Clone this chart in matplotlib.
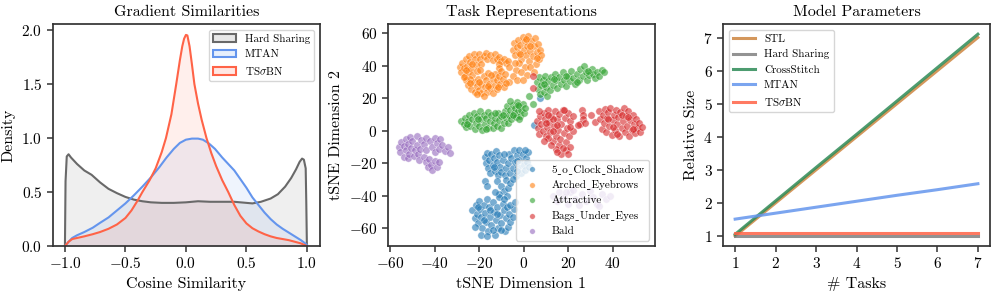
import numpy as np
import matplotlib
matplotlib.use("Agg")
import matplotlib.pyplot as plt
from matplotlib.patches import Patch

plt.rcParams['font.family'] = ['cmr10', 'DejaVu Serif', 'DejaVu Sans']
plt.rcParams['mathtext.fontset'] = 'cm'
plt.rcParams['axes.formatter.use_mathtext'] = True
plt.rcParams['axes.unicode_minus'] = True
plt.rcParams['axes.edgecolor'] = '0.2'
plt.rcParams['axes.linewidth'] = 1.25
plt.rcParams['xtick.color'] = '0.2'
plt.rcParams['ytick.color'] = '0.2'
plt.rcParams['xtick.labelcolor'] = 'black'
plt.rcParams['ytick.labelcolor'] = 'black'

# --- Gradient similarity densities ---
hs_x = [-1.0, -0.995, -0.985, -0.97, -0.95, -0.9, -0.84, -0.78, -0.71, -0.64, -0.57, -0.5,
        -0.43, -0.36, -0.29, -0.2, -0.1, 0.0, 0.1, 0.2, 0.3, 0.4, 0.5, 0.55, 0.62, 0.7,
        0.76, 0.82, 0.87, 0.91, 0.94, 0.96, 0.975, 0.99, 0.995, 1.0]
hs_y = [0.0, 0.6, 0.83, 0.85, 0.82, 0.76, 0.70, 0.66, 0.59, 0.53, 0.49, 0.455,
        0.43, 0.415, 0.405, 0.40, 0.40, 0.405, 0.415, 0.41, 0.41, 0.41, 0.40, 0.395, 0.41, 0.44,
        0.48, 0.55, 0.63, 0.71, 0.78, 0.81, 0.80, 0.72, 0.4, 0.0]

mtan_x = [-1.0, -0.97, -0.94, -0.9, -0.84, -0.77, -0.71, -0.64, -0.57, -0.5, -0.43, -0.36,
          -0.29, -0.22, -0.16, -0.1, -0.05, 0.0, 0.05, 0.1, 0.14, 0.19, 0.24, 0.3, 0.35,
          0.4, 0.45, 0.5, 0.55, 0.6, 0.65, 0.7, 0.75, 0.8, 0.85, 0.9, 0.95, 0.98, 1.0]
mtan_y = [0.0, 0.04, 0.075, 0.1, 0.13, 0.17, 0.215, 0.265, 0.33, 0.395, 0.47, 0.55,
          0.635, 0.73, 0.82, 0.90, 0.955, 0.985, 0.995, 0.995, 0.985, 0.95, 0.90, 0.82, 0.76,
          0.70, 0.62, 0.54, 0.45, 0.38, 0.31, 0.25, 0.2, 0.16, 0.125, 0.09, 0.055, 0.03, 0.01]

tsbn_x = [-1.0, -0.97, -0.94, -0.9, -0.84, -0.77, -0.71, -0.64, -0.57, -0.5, -0.45, -0.4,
          -0.36, -0.3, -0.25, -0.2, -0.165, -0.12, -0.08, -0.05, -0.03, -0.015, 0.0, 0.012,
          0.03, 0.05, 0.07, 0.1, 0.13, 0.17, 0.21, 0.25, 0.3, 0.35, 0.4, 0.45, 0.5, 0.55,
          0.6, 0.65, 0.7, 0.75, 0.8, 0.85, 0.9, 0.95, 1.0]
tsbn_y = [0.0, 0.04, 0.065, 0.075, 0.09, 0.11, 0.13, 0.16, 0.2, 0.26, 0.33, 0.42,
          0.50, 0.61, 0.72, 0.87, 1.0, 1.22, 1.5, 1.72, 1.85, 1.92, 1.955, 1.95,
          1.85, 1.68, 1.5, 1.32, 1.17, 1.0, 0.86, 0.74, 0.61, 0.5, 0.38, 0.28, 0.21, 0.165,
          0.135, 0.11, 0.09, 0.075, 0.065, 0.055, 0.04, 0.025, 0.0]

# --- tSNE task representations (approximate point positions) ---
shadow_pts = [(-17.5, -16), (-17, -20), (-16.5, -13.5), (-16, -23), (-15.5, -18), (-15, -26),
              (-14.5, -14), (-14, -21), (-13.5, -17), (-13, -24.5), (-12.5, -12.5), (-12, -19),
              (-11.5, -27), (-11, -15), (-10.5, -22), (-10, -25.5), (-9.5, -18), (-8.5, -27.5),
              (-8, -23), (-7, -20), (-6.5, -14), (-6, -26), (-5.5, -17), (-5, -23), (-4.5, -12),
              (-4, -19.5), (-3.5, -28), (-3, -15), (-2.5, -22.5), (-2, -12), (-1.5, -18), (-1, -26),
              (-0.5, -14), (0, -21), (0.5, -24), (1, -16.5), (1.5, -19.5), (2, -13), (2.5, -22),
              (-3, -25), (-17.5, -31), (-16.5, -34), (-12, -31), (-10, -34), (-8, -30), (-9, -37),
              (-7, -35), (-6, -32), (-5, -29.5), (-11, -39), (-7.5, -40), (-23, -49), (-22, -54),
              (-21.5, -45.5), (-21, -51), (-20.5, -57), (-20, -43), (-19.5, -48), (-19, -53),
              (-18.5, -60), (-18, -46), (-17.5, -50.5), (-17, -56), (-16.5, -42), (-16, -62),
              (-15.5, -47), (-15, -53), (-14.5, -58), (-14, -44), (-13.5, -50), (-13, -64),
              (-12.5, -55), (-12, -47), (-11.5, -60), (-11, -41), (-10.5, -52), (-10, -57),
              (-9.5, -45), (-9, -49), (-8.5, -62), (-8, -54), (-7.5, -47), (-7, -59), (-6.5, -51),
              (-6, -56), (-5, -53), (-4.5, -48), (-13, -38), (7.5, 20.5), (4.5, 3.5),
              (-22, -59), (-19, -64), (-16.5, -65), (-20.5, -47), (-18, -55), (-14, -61),
              (-10, -61), (-12, -51), (-15, -49), (-6, -46), (-4, -44), (-9, -42), (-3, -18.5),
              (0.5, -12), (-13.5, -22), (-9, -14)]
arched_pts = [(-28.5, 39), (-28, 36), (-27.5, 42), (-27, 38.5), (-26.5, 34), (-26, 44), (-25.5, 40),
              (-25, 36.5), (-24.5, 46), (-24, 42.5), (-23.5, 38), (-23, 34.5), (-22.5, 47), (-22, 44),
              (-21.5, 40.5), (-21, 37), (-20, 47.5), (-19.5, 44), (-19, 41), (-18, 46), (-17, 48),
              (-16.5, 44.5), (-15, 46.5), (-14, 43.5), (-13, 47), (-12, 44), (-11, 45.5), (-10, 43),
              (-9, 44.5), (-8, 41.5), (-7, 43), (-6.5, 39.5), (-11, 41), (-19.5, 37.5), (-11, 38.5),
              (-26, 31), (-25, 28.5), (-24, 32), (-23.5, 26), (-22.5, 30), (-22, 24), (-21, 27.5),
              (-20.5, 32), (-20, 25), (-19, 29), (-19, 23.5), (-18, 34), (-17.5, 27), (-17, 31),
              (-16.5, 24), (-16, 35.5), (-15.5, 29), (-15, 26.5), (-14, 32), (-14, 23), (-13, 35),
              (-13, 28), (-12, 31.5), (-12, 25.5), (-11, 34), (-10.5, 29), (-10, 37), (-9.5, 32),
              (-9, 27), (-8.5, 35), (-5, 50), (-4.5, 54), (-4, 46.5), (-3, 51.5), (-2.5, 56),
              (-2, 48), (-1.5, 53), (-1, 44.5), (-0.5, 58), (0, 50), (0.5, 55), (1, 46.5),
              (1.5, 52), (2, 58.5), (2.5, 43), (3, 49), (3.5, 55), (4, 46), (4.5, 52), (5, 57),
              (5.5, 41), (6, 48.5), (6.5, 53.5), (7, 44), (7.5, 50), (8, 46.5), (-2, 41.5),
              (0.5, 39.5), (3, 39), (-3.5, 37.5), (-1, 36), (1.5, 34.5), (-5, 33.5), (-3, 31.5),
              (-0.5, 31.5), (-6.5, 30), (4.5, 36), (-4, 42), (-27, 33), (-24, 29.5), (-21, 22.5),
              (-18, 21.5), (-16, 27.5), (-20, 30), (-23, 41), (-26, 37.5), (-14.5, 34.5),
              (-11.5, 27), (-8, 29.5), (3, 52.5), (6, 45), (-1.5, 47), (1, 56.5)]
attractive_pts = [(-28, 6), (-27, 4), (-26.5, 8), (-26, 2.5), (-25, 6), (-24.5, 9.5), (-24, 3),
                  (-23, 7), (-22.5, 11), (-22, 1), (-21.5, 5), (-21, 9), (-20, 3), (-19.5, 12),
                  (-19, 7), (-18.5, 0.5), (-18, 10), (-17.5, 4), (-17, 8), (-16, 2), (-16, 11.5),
                  (-15, 6), (-14.5, 9.5), (-14, 1.5), (-13.5, 4.5), (-13, 8), (-12, 3), (-11.5, 11),
                  (-11, 6.5), (-10, 2), (-10, 9), (-9, 5), (-8.5, 12), (-8, 8), (-7.5, 15), (-7, 4.5),
                  (-6.5, 10), (-6, 13), (-5.5, 7), (-5, 16), (-4.5, 11), (-4, 14), (-3.5, 8.5),
                  (-3, 18), (-2.5, 12), (-2, 15.5), (-1.5, 9), (-1, 13), (-0.5, 16.5), (0, 11),
                  (0.5, 14), (-6, 18.5), (-2, 7), (2.2, 21.4), (4.3, 16.8), (6, 30), (6.5, 26),
                  (7, 33), (7.5, 22.5), (8, 28), (8.5, 31.5), (9, 24), (9.5, 34), (10, 27),
                  (10.5, 21.5), (11, 30.5), (12, 25), (12.5, 33), (13, 28.5), (14, 35), (14.5, 31),
                  (15, 26.5), (16, 33), (17, 29), (17.5, 36), (18, 31.5), (19, 27.5), (20, 34),
                  (21, 30.5), (21.5, 37), (22, 32.5), (23, 29), (24, 35), (25, 31.5), (25.5, 38),
                  (26.5, 33.5), (27, 40), (28, 36), (28.5, 31), (29.5, 34.5), (30.5, 38), (31, 35),
                  (32, 32.5), (33, 36.5), (34, 34), (35, 37.5), (36, 36), (-25.5, 4), (-20.5, 7.5),
                  (-17, 1), (-13, 11), (-9.5, 9.5), (-5, 10), (-2.5, 16), (9, 29), (13.5, 32),
                  (19, 33.5), (24, 30), (29, 37)]
bags_pts = [(6, 6), (6.5, 2), (7, -2), (7.5, 9), (8, 4), (8.5, 0), (9, 11), (9.5, 7), (10, -3.5),
            (10.5, 2.5), (11, 12.5), (11.5, 5.5), (12, -1), (12.5, 9), (13, -6), (13.5, 3), (14, 12),
            (14.5, -3), (15, 7), (15.5, 0.5), (16, -9), (16, 10.5), (16.5, -5), (17, 4), (17.5, 13),
            (18, -1.5), (18.5, 8), (19, -12), (19, -7), (19.5, 2), (20, 11), (20.5, -3.5), (21, 6),
            (21, -10), (22, 0), (22, 9), (14.5, -11), (17, -14.5), (20, -14), (13, 7.5), (11, -4.5),
            (15, -13), (26, 12.7), (26.8, 9.6), (26.8, 7.5), (25.3, 4.1), (27.5, 4.5), (30.4, 9.6),
            (31.9, 5.5), (24.5, 3.5), (34, 12), (34.5, 7), (35, 1), (35.5, 10), (36, 4.5),
            (36.5, 13.5), (37, -1), (37.5, 8), (38, 11.5), (38.5, 3), (39, 14), (39.5, -2.5),
            (40, 6.5), (40.5, 10), (41, 0.5), (41.5, 13), (42, 4), (42.5, 8.5), (43, -3.5),
            (43.5, 11.5), (44, 1.5), (44.5, 6), (45, 14), (45.5, -1), (46, 9), (46.5, 3), (47, 12),
            (47.5, -3), (48, 6.5), (48.5, 0.5), (49, 10), (49.5, 4), (50, -1.5), (50.5, 7.5),
            (51, 2), (52, 4.5), (52.5, -0.5), (53, 2.5), (42, -2), (4, 34), (4, 26.5),
            (7, 12), (9, -6), (11, 9.5), (13, 0), (15, 3.5), (17.5, -10.5), (18, 12.5), (21, 2.5),
            (12.5, -8.5), (10, 5), (38, 7), (44, 9.5), (47, 8.5), (40, 2.5), (49, 1)]
bald_pts = [(-56, -10), (-55.5, -13), (-55, -7), (-54, -16), (-54, -9.5), (-53, -5), (-53, -12),
            (-52, -8), (-52, -17), (-51.5, -14), (-51, -4), (-50.5, -10.5), (-50, -6.5), (-49.5, -15.5),
            (-49, -12), (-48, -3.5), (-48, -8.5), (-47.5, -14), (-47, -18), (-46.5, -11), (-46, -5.5),
            (-45, -8), (-45, -16), (-44, -12), (-44, -4.5), (-42, -6), (-41, -10), (-40, -4.5),
            (-40, -13), (-39, -7.5), (-38, -11), (-37.5, -5), (-36.5, -9), (-35.5, -12.5), (-34, -10),
            (-33, -13.5), (-44, -19), (-43, -22), (-42.5, -17.5), (-41.5, -21), (-41, -24),
            (-40, -18.5), (-39, -22), (-38, -19.5), (13, -40), (15, -43), (16, -37.5), (18, -41),
            (20, -45), (21, -38), (23, -42), (25, -46), (26, -39), (28, -43), (30, -37), (31, -41),
            (33, -45), (35, -39), (37, -42), (39, -40), (22, -36.5), (34, -46.5), (19, -38)]
task_names = ['5_o_Clock_Shadow', 'Arched_Eyebrows', 'Attractive', 'Bags_Under_Eyes', 'Bald']
task_colors = ['#1f77b4', '#ff7f0e', '#2ca02c', '#d62728', '#9467bd']

# --- Model parameters vs number of tasks ---
n_tasks = [1, 2, 3, 4, 5, 6, 7]
stl = [1, 2, 3, 4, 5, 6, 7]
hard_sharing = [1, 1, 1, 1, 1, 1, 1]
cross_stitch = [1.05, 2.06, 3.07, 4.07, 5.08, 6.09, 7.1]
mtan = [1.51, 1.69, 1.87, 2.05, 2.23, 2.40, 2.58]
tsbn = [1.08, 1.08, 1.08, 1.08, 1.08, 1.08, 1.08]

fig, axes = plt.subplots(1, 3, figsize=(9.97, 2.94), dpi=100)
plt.subplots_adjust(left=0.053, right=0.993, bottom=0.163, top=0.918, wspace=0.255)

LBL = 11.5
LEG = 8

# Left: densities
ax = axes[0]
kde = [(hs_x, hs_y, 'dimgray', 'Hard Sharing'),
       (mtan_x, mtan_y, 'cornflowerblue', 'MTAN'),
       (tsbn_x, tsbn_y, 'tomato', r'TS$\sigma$BN')]
handles = []
for xs, ys, c, lab in kde:
    ax.fill_between(xs, ys, color=c, alpha=0.1, lw=0)
    ax.plot(xs, ys, color=c, lw=1.5)
    handles.append(Patch(facecolor=matplotlib.colors.to_rgba(c, 0.15), edgecolor=c, lw=1.5, label=lab))
ax.set_xlim(-1.1, 1.107)
ax.set_ylim(0, 2.055)
ax.set_xticks([-1.0, -0.5, 0.0, 0.5, 1.0])
ax.set_yticks([0.0, 0.5, 1.0, 1.5, 2.0])
ax.set_title('Gradient Similarities', fontsize=LBL)
ax.set_xlabel('Cosine Similarity', fontsize=LBL)
ax.set_ylabel('Density', fontsize=LBL)
ax.legend(handles=handles, loc='upper right', fontsize=LEG)

# Middle: tSNE
ax = axes[1]
for pts, c, lab in zip([shadow_pts, arched_pts, attractive_pts, bags_pts, bald_pts], task_colors, task_names):
    arr = np.array(pts)
    # cmr10 maps "_" to a dot accent, so use a low macron that falls back to DejaVu
    shown = lab.replace('_', '\u02cd')
    ax.scatter(arr[:, 0], arr[:, 1], s=28, color=c, alpha=0.6, edgecolors='white', linewidths=0.4, label=shown)
ax.set_xlim(-61, 59)
ax.set_ylim(-71, 65.7)
ax.set_xticks([-60, -40, -20, 0, 20, 40])
ax.set_yticks([-60, -40, -20, 0, 20, 40, 60])
ax.set_title('Task Representations', fontsize=LBL)
ax.set_xlabel('tSNE Dimension 1', fontsize=LBL)
ax.set_ylabel('tSNE Dimension 2', fontsize=LBL)
ax.legend(loc='lower right', fontsize=LEG, markerscale=0.75)

# Right: parameters
ax = axes[2]
lines = [(stl, 'peru', 'STL'), (hard_sharing, 'gray', 'Hard Sharing'),
         (cross_stitch, 'seagreen', 'CrossStitch'), (mtan, 'cornflowerblue', 'MTAN'),
         (tsbn, 'tomato', r'TS$\sigma$BN')]
for ys, c, lab in lines:
    ax.plot(n_tasks, ys, color=c, lw=2.2, alpha=0.85, label=lab)
ax.set_xticks(n_tasks)
ax.set_yticks([1, 2, 3, 4, 5, 6, 7])
ax.set_title('Model Parameters', fontsize=LBL)
ax.set_xlabel('# Tasks', fontsize=LBL)
ax.set_ylabel('Relative Size', fontsize=LBL)
ax.legend(loc='upper left', fontsize=LEG)

for ax in axes:
    ax.tick_params(labelsize=11, length=4, width=1.1)

fig.savefig('out.png', dpi=100)
